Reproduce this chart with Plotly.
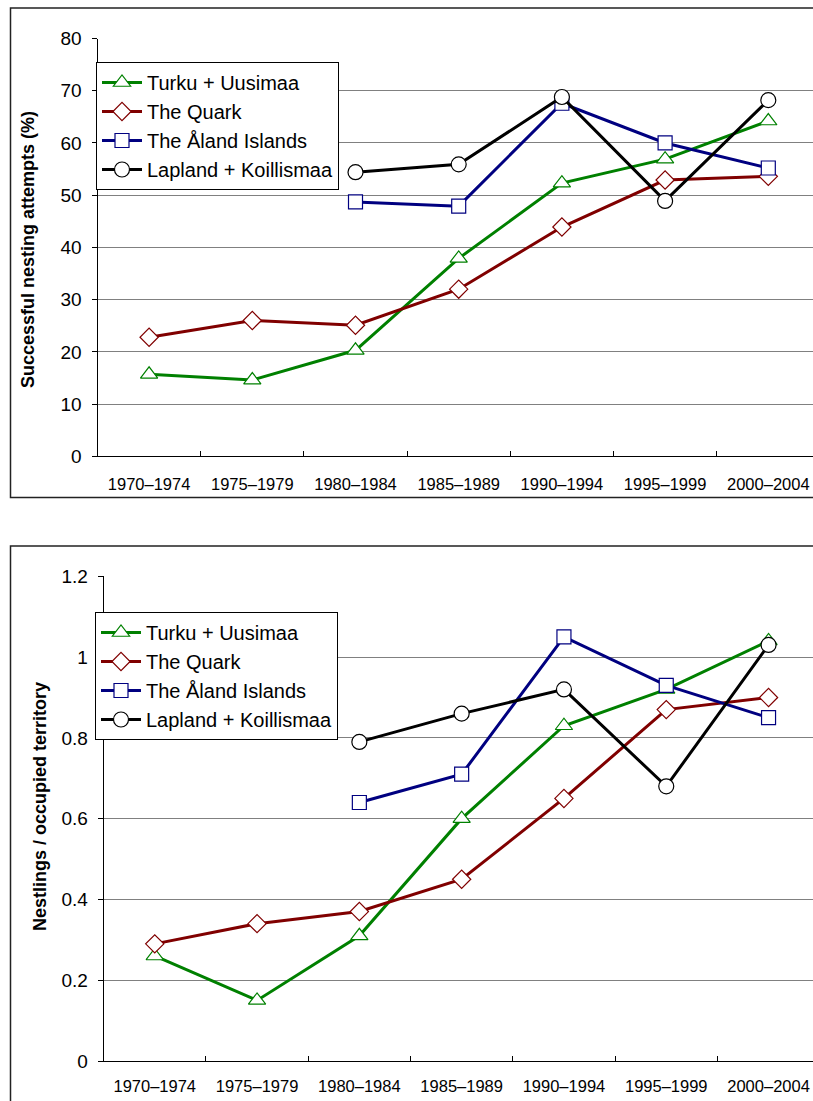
import plotly.graph_objects as go

W, H = 813, 1101

categories = ["1970–1974", "1975–1979", "1980–1984", "1985–1989",
              "1990–1994", "1995–1999", "2000–2004"]

series_names = ["Turku + Uusimaa", "The Quark", "The Åland Islands", "Lapland + Koillismaa"]

# Top panel: successful nesting attempts (%)
top_turku = [15.7, 14.6, 20.3, 37.9, 52.3, 56.9, 64.2]
top_quark = [22.8, 26.0, 25.1, 32.0, 43.9, 52.9, 53.6]
top_aland = [None, None, 48.7, 47.9, 67.6, 60.0, 55.2]
top_lapland = [None, None, 54.4, 55.9, 68.8, 48.9, 68.2]

# Bottom panel: nestlings / occupied territory
bot_turku = [0.26, 0.15, 0.31, 0.60, 0.83, 0.92, 1.04]
bot_quark = [0.29, 0.34, 0.37, 0.45, 0.65, 0.87, 0.90]
bot_aland = [None, None, 0.64, 0.71, 1.05, 0.93, 0.85]
bot_lapland = [None, None, 0.79, 0.86, 0.92, 0.68, 1.03]

top_ticks = [0, 10, 20, 30, 40, 50, 60, 70, 80]
bot_ticks = [0, 0.2, 0.4, 0.6, 0.8, 1.0, 1.2]
bot_ticktext = ["0", "0.2", "0.4", "0.6", "0.8", "1", "1.2"]

colors = ["#008000", "#800000", "#000080", "#000000"]
symbols = ["triangle-up", "diamond", "square", "circle"]
msizes = [15, 14, 14, 15]

FONT = "Liberation Sans, Arial, sans-serif"

def px_x(p):
    return p / W

def px_y(p):
    return 1 - p / H

fig = go.Figure()

top_data = [top_turku, top_quark, top_aland, top_lapland]
bot_data = [bot_turku, bot_quark, bot_aland, bot_lapland]

for i, (name, vals) in enumerate(zip(series_names, top_data)):
    fig.add_trace(go.Scatter(
        x=categories, y=vals, name=name, mode="lines+markers",
        line=dict(color=colors[i], width=3),
        marker=dict(symbol=symbols[i], size=msizes[i], color="white",
                    line=dict(color=colors[i], width=1.2)),
        xaxis="x", yaxis="y", legend="legend", legendgroup="t%d" % i,
    ))

for i, (name, vals) in enumerate(zip(series_names, bot_data)):
    fig.add_trace(go.Scatter(
        x=categories, y=vals, name=name, mode="lines+markers",
        line=dict(color=colors[i], width=3),
        marker=dict(symbol=symbols[i], size=msizes[i], color="white",
                    line=dict(color=colors[i], width=1.2)),
        xaxis="x2", yaxis="y2", legend="legend2", legendgroup="b%d" % i,
    ))

top_left = 97.5
top_step = 103.2
bot_left = 103.6
bot_step = 102.3

xcommon = dict(type="category", showgrid=False, showline=True, linecolor="black",
               linewidth=1, ticks="inside", ticklen=5, tickcolor="black",
               tickson="boundaries", tickfont=dict(family=FONT, size=16.5, color="black"),
               zeroline=False, automargin=False)
ycommon = dict(showgrid=True, gridcolor="#808080", gridwidth=1, showline=True,
               linecolor="black", linewidth=1, ticks="outside", ticklen=5,
               tickcolor="black", tickfont=dict(family=FONT, size=19, color="black"),
               zeroline=False, automargin=False)

fig.update_layout(
    width=W, height=H,
    margin=dict(l=0, r=0, t=0, b=0, pad=0, autoexpand=False),
    paper_bgcolor="white", plot_bgcolor="white",
    font=dict(family=FONT, color="black"),
    xaxis=dict(domain=[px_x(top_left), 1.0], anchor="y",
               range=[-0.5, -0.5 + (W - top_left) / top_step],
               ticklabelstandoff=13, **xcommon),
    yaxis=dict(domain=[px_y(456.3), px_y(38.5)], anchor="x", range=[0, 80],
               tickvals=top_ticks, ticklabelstandoff=6, **ycommon),
    xaxis2=dict(domain=[px_x(bot_left), 1.0], anchor="y2",
                range=[-0.5, -0.5 + (W - bot_left) / bot_step],
                ticklabelstandoff=10, **xcommon),
    yaxis2=dict(domain=[px_y(1061), px_y(576.3)], anchor="x2", range=[0, 1.2],
                tickvals=bot_ticks, ticktext=bot_ticktext, ticklabelstandoff=6, **ycommon),
    legend=dict(x=px_x(96), y=px_y(62), xanchor="left", yanchor="top",
                bgcolor="white", bordercolor="black", borderwidth=1,
                font=dict(family=FONT, size=20, color="black"),
                itemwidth=40, tracegroupgap=0, traceorder="normal"),
    legend2=dict(x=px_x(95), y=px_y(612), xanchor="left", yanchor="top",
                 bgcolor="white", bordercolor="black", borderwidth=1,
                 font=dict(family=FONT, size=20, color="black"),
                 itemwidth=40, tracegroupgap=0, traceorder="normal"),
    showlegend=True,
)

# outer frames of both panels
fig.add_shape(type="rect", xref="paper", yref="paper",
              x0=px_x(10.5), x1=1.05, y0=px_y(497.5), y1=px_y(8),
              line=dict(color="#222222", width=1.5), fillcolor="rgba(0,0,0,0)", layer="below")
fig.add_shape(type="rect", xref="paper", yref="paper",
              x0=px_x(10.5), x1=1.05, y0=-0.05, y1=px_y(546),
              line=dict(color="#222222", width=1.5), fillcolor="rgba(0,0,0,0)", layer="below")

# axis titles
fig.add_annotation(text="<b>Successful nesting attempts (%)</b>", xref="paper", yref="paper",
                   x=px_x(28), y=px_y(250), textangle=-90, showarrow=False,
                   font=dict(family=FONT, size=18, color="black"),
                   xanchor="center", yanchor="middle")
fig.add_annotation(text="<b>Nestlings / occupied territory</b>", xref="paper", yref="paper",
                   x=px_x(40), y=px_y(807), textangle=-90, showarrow=False,
                   font=dict(family=FONT, size=18, color="black"),
                   xanchor="center", yanchor="middle")

fig.write_html(
    "out.html",
    config={"displayModeBar": False},
    post_script="document.body.style.margin='0';document.body.style.overflow='hidden';",
)
